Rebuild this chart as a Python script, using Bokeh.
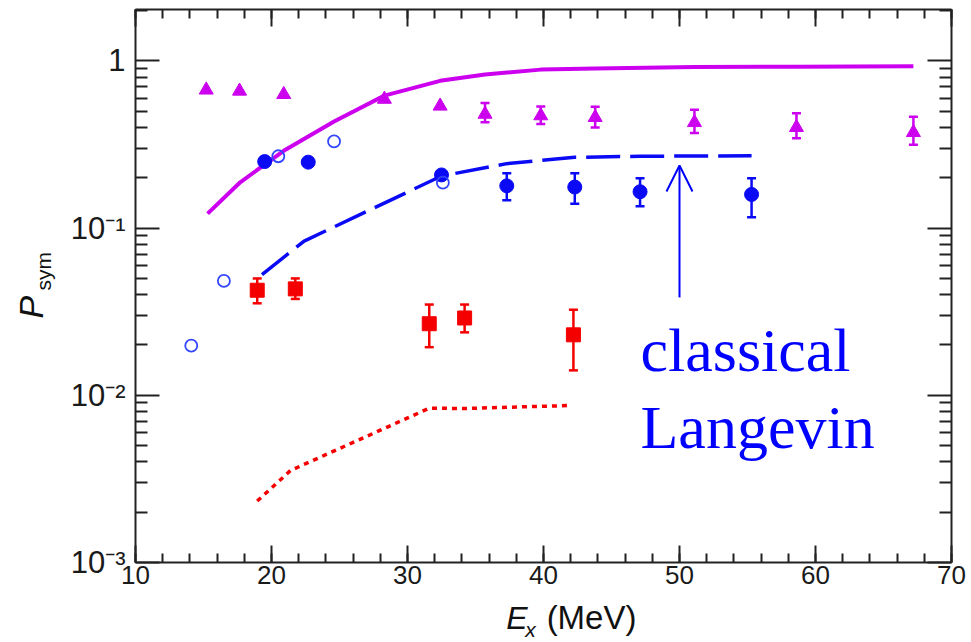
import math
from bokeh.plotting import figure
from bokeh.layouts import row, column
from bokeh.models import (LinearAxis, LogAxis, FixedTicker, Range1d, Whisker, ColumnDataSource,
                          Label, Arrow, OpenHead, TeeHead, CustomJSTickFormatter)
from bokeh.embed import file_html
from bokeh.resources import INLINE

# ---------------- data ----------------
x_ticks = [10, 20, 30, 40, 50, 60, 70]
x_tick_labels = ["10", "20", "30", "40", "50", "60", "70"]
y_ticks = [0.001, 0.01, 0.1, 1]
y_tick_labels = ["10\u207b\u00b3", "10\u207b\u00b2", "10\u207b\u00b9", "1"]

# magenta triangles
tri_x = [15.2, 17.65, 20.9, 28.3, 32.4, 35.7, 39.8, 43.8, 51.1, 58.6, 67.2]
tri_y = [0.67, 0.66, 0.63, 0.59, 0.537, 0.48, 0.47, 0.459, 0.428, 0.40, 0.373]
tri_err_x = [35.7, 39.8, 43.8, 51.1, 58.6, 67.2]
tri_err_lo = [0.43, 0.42, 0.40, 0.37, 0.345, 0.315]
tri_err_hi = [0.56, 0.534, 0.532, 0.51, 0.487, 0.463]

# blue filled circles
circ_x = [19.5, 22.7, 32.5, 37.3, 42.3, 47.1, 55.3]
circ_y = [0.25, 0.248, 0.208, 0.179, 0.176, 0.165, 0.159]
circ_err_x = [37.3, 42.3, 47.1, 55.3]
circ_err_lo = [0.147, 0.14, 0.135, 0.116]
circ_err_hi = [0.213, 0.213, 0.199, 0.199]

# blue open circles
open_x = [14.1, 16.5, 20.5, 24.6, 32.6]
open_y = [0.0198, 0.0483, 0.269, 0.33, 0.187]

# red squares
sq_x = [18.95, 21.75, 31.6, 34.2, 42.2]
sq_y = [0.0425, 0.0433, 0.0268, 0.029, 0.023]
sq_err_lo = [0.0355, 0.0377, 0.0194, 0.0238, 0.0141]
sq_err_hi = [0.050, 0.050, 0.0349, 0.0349, 0.0325]

# model curves
mag_line_x = [15.3, 17.7, 20.9, 24.6, 28.3, 32.4, 35.7, 39.8, 43.8, 51.1, 58.6, 67.2]
mag_line_y = [0.122, 0.188, 0.29, 0.434, 0.62, 0.76, 0.83, 0.887, 0.90, 0.918, 0.924, 0.928]
blue_line_x = [19.3, 22.4, 32.5, 37.3, 42.3, 47.1, 55.3]
blue_line_y = [0.0527, 0.0836, 0.205, 0.243, 0.265, 0.269, 0.271]
red_line_x = [18.95, 21.4, 31.6, 34.2, 42.0]
red_line_y = [0.00233, 0.00355, 0.00837, 0.00834, 0.00869]

arrow_x = 50
arrow_y = [0.0385, 0.2367]

# ---------------- styling ----------------
MAG = "#CC00EE"
BLUE = "#0A0AF5"
OPEN_BLUE = "#3346FF"
RED = "#F50000"
TXT_BLUE = "#0000FF"
AX = "#222222"
TXT = "#111111"
BASE_SHIFT = 0.34    # Bokeh's alphabetic anchor sits this many em above the drawn baseline

X0, X1 = 10, 70
Y0, Y1 = 0.001, 2.03
W, H = 971, 642
LEFT_W = 60          # strip holding the y-axis title
BOTTOM_H = 40        # strip holding the x-axis title
PW, PH = W - LEFT_W, H - BOTTOM_H
BL, BR, BT, BB = 75, 20, 9, 40
FW, FH = PW - BL - BR, PH - BT - BB


def px2x(sx):
    return X0 + (sx - LEFT_W - BL) * (X1 - X0) / FW


def px2y(sy):
    lo, hi = math.log10(Y0), math.log10(Y1)
    return 10 ** (hi - (sy - BT) * (hi - lo) / FH)


p = figure(width=PW, height=PH, x_range=Range1d(X0, X1), y_range=Range1d(Y0, Y1),
           y_axis_type="log", output_backend="svg", toolbar_location=None,
           min_border_left=BL, min_border_right=BR, min_border_top=BT, min_border_bottom=BB,
           x_axis_location=None, y_axis_location=None)
p.outline_line_color = None
p.background_fill_color = "white"
p.border_fill_color = "white"
p.xgrid.visible = False
p.ygrid.visible = False

x_ticker = FixedTicker(ticks=x_ticks, minor_ticks=list(range(10, 71, 2)))
y_minor = [k * 10 ** e for e in (-3, -2, -1, 0) for k in range(2, 10)]
y_ticker = FixedTicker(ticks=y_ticks, minor_ticks=y_minor)

fmt_x = CustomJSTickFormatter(args=dict(tv=x_ticks, tl=x_tick_labels), code="""
for (let i = 0; i < tv.length; i++) { if (Math.abs(tick - tv[i]) < 1e-9) return tl[i]; }
return '';""")
fmt_y = CustomJSTickFormatter(args=dict(tv=y_ticks, tl=y_tick_labels), code="""
for (let i = 0; i < tv.length; i++) { if (Math.abs(Math.log10(tick / tv[i])) < 1e-6) return tl[i]; }
return '';""")
fmt_none = CustomJSTickFormatter(code="return '';")


def style(ax, major, minor, show_labels, size="28px", standoff=5):
    ax.major_tick_in = major
    ax.major_tick_out = 0
    ax.minor_tick_in = minor
    ax.minor_tick_out = 0
    ax.axis_line_width = 2
    ax.axis_line_color = AX
    ax.major_tick_line_width = 2
    ax.major_tick_line_color = AX
    ax.minor_tick_line_width = 2
    ax.minor_tick_line_color = AX
    ax.major_label_text_font = "Liberation Sans"
    ax.major_label_text_color = "#1a1a1a"
    if show_labels:
        ax.major_label_text_font_size = size
        ax.major_label_standoff = standoff
    else:
        ax.major_label_text_font_size = "0px"
        ax.major_label_standoff = 0


bottom = LinearAxis(ticker=x_ticker, formatter=fmt_x)
style(bottom, 17, 9, True, "26px", 3)
top = LinearAxis(ticker=x_ticker, formatter=fmt_none)
style(top, 17, 9, False)
left = LogAxis(ticker=y_ticker, formatter=fmt_y)
style(left, 24, 12, True, "31px", 10)
right = LogAxis(ticker=y_ticker, formatter=fmt_none)
style(right, 24, 12, False)
p.add_layout(bottom, "below")
p.add_layout(top, "above")
p.add_layout(left, "left")
p.add_layout(right, "right")

# curves
p.line(mag_line_x, mag_line_y, line_color=MAG, line_width=4)
p.line(blue_line_x, blue_line_y, line_color=BLUE, line_width=3.5, line_dash="34 10")
p.line(red_line_x, red_line_y, line_color=RED, line_width=3.5, line_dash="5 5")


def whiskers(xs, lo, hi, color):
    src = ColumnDataSource(dict(base=xs, lower=lo, upper=hi))
    w = Whisker(source=src, base="base", lower="lower", upper="upper", dimension="height",
                line_color=color, line_width=2.5,
                upper_head=TeeHead(size=9, line_color=color, line_width=2.5),
                lower_head=TeeHead(size=9, line_color=color, line_width=2.5))
    p.add_layout(w)


whiskers(tri_err_x, tri_err_lo, tri_err_hi, MAG)
whiskers(circ_err_x, circ_err_lo, circ_err_hi, BLUE)
whiskers(sq_x, sq_err_lo, sq_err_hi, RED)

p.scatter(tri_x, tri_y, marker="triangle", size=14, fill_color=MAG, line_color=MAG)
p.scatter(circ_x, circ_y, marker="circle", size=14, fill_color=BLUE, line_color=BLUE)
p.scatter(open_x, open_y, marker="circle", size=12, fill_color=None, line_color=OPEN_BLUE, line_width=1.8)
p.scatter(sq_x, sq_y, marker="square", size=14, fill_color=RED, line_color=RED)

# arrow + annotation
p.add_layout(Arrow(end=OpenHead(size=26, line_color=TXT_BLUE, line_width=2),
                   x_start=arrow_x, y_start=arrow_y[0], x_end=arrow_x, y_end=arrow_y[1],
                   line_color=TXT_BLUE, line_width=2))
for txt, sy in (("classical", 370.7), ("Langevin", 447.7)):
    p.add_layout(Label(x=px2x(LEFT_W + 580), y=px2y(sy - BASE_SHIFT * 62), text=txt,
                       text_font="Liberation Serif", text_font_size="62px", text_color=TXT_BLUE,
                       text_baseline="alphabetic", text_align="left"))


def strip(width, height, xr, yr):
    f = figure(width=width, height=height, x_range=Range1d(*xr), y_range=Range1d(*yr),
               output_backend="svg", toolbar_location=None, min_border=0,
               x_axis_location=None, y_axis_location=None)
    f.outline_line_color = None
    f.xgrid.visible = False
    f.ygrid.visible = False
    f.background_fill_color = "white"
    f.border_fill_color = "white"
    return f


# y-axis title strip: coordinates are page pixels (y downwards)
ystrip = strip(LEFT_W, H, (0, LEFT_W), (H, 0))
ystrip.add_layout(Label(x=42 - BASE_SHIFT * 34, y=318, text="P", angle=math.pi / 2,
                        text_font="Liberation Sans", text_font_style="italic",
                        text_font_size="34px", text_color=TXT,
                        text_baseline="alphabetic", text_align="left"))
ystrip.add_layout(Label(x=50 - BASE_SHIFT * 21, y=290, text="sym", angle=math.pi / 2,
                        text_font="Liberation Sans", text_font_size="21px", text_color=TXT,
                        text_baseline="alphabetic", text_align="left"))

# x-axis title strip
xstrip = strip(PW, BOTTOM_H, (LEFT_W, W), (H, PH))
xstrip.add_layout(Label(x=474, y=628 - BASE_SHIFT * 32, text="E", text_font="Liberation Sans",
                        text_font_style="italic", text_font_size="32px", text_color=TXT,
                        text_baseline="alphabetic", text_align="left"))
xstrip.add_layout(Label(x=495, y=636 - BASE_SHIFT * 21, text="x", text_font="Liberation Sans",
                        text_font_style="italic", text_font_size="21px", text_color=TXT,
                        text_baseline="alphabetic", text_align="left"))
xstrip.add_layout(Label(x=519, y=628 - BASE_SHIFT * 33, text="(MeV)", text_font="Liberation Sans",
                        text_font_size="33px", text_color=TXT,
                        text_baseline="alphabetic", text_align="left"))

layout = row(ystrip, column(p, xstrip, spacing=0), spacing=0)
open("out.html", "w").write(file_html(layout, INLINE))
